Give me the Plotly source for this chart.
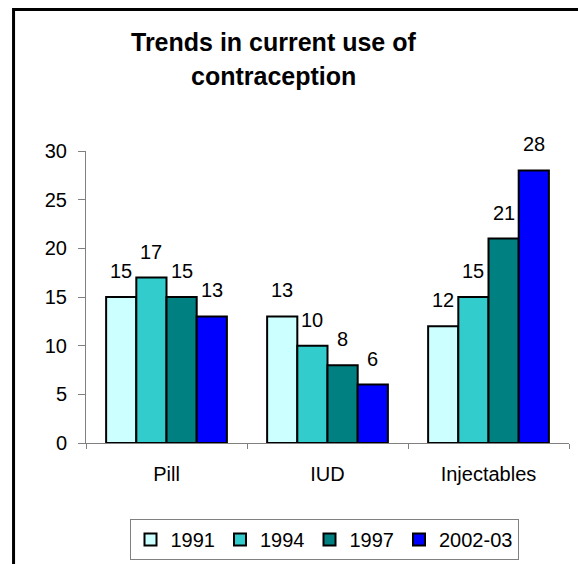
import plotly.graph_objects as go

# Contraceptive method categories and survey rounds
methods = ["Pill", "IUD", "Injectables"]
years = ["1991", "1994", "1997", "2002-03"]

# Percent of women currently using each method, per survey round
use_1991 = [15, 13, 12]
use_1994 = [17, 10, 15]
use_1997 = [15, 8, 21]
use_2002 = [13, 6, 28]

series = [use_1991, use_1994, use_1997, use_2002]
colors = ["#CCFFFF", "#33CCCC", "#008080", "#0000FF"]

title_lines = ["Trends in current use of", "contraception"]

FONT = "Liberation Sans, Arial, sans-serif"
W, H = 578, 564

fig = go.Figure()
for name, vals, col in zip(years, series, colors):
    fig.add_trace(go.Bar(
        x=methods, y=vals, name=name,
        marker=dict(color=col, line=dict(color="black", width=2)),
    ))

# Value labels above each bar, positioned from the bar values
group_width = 0.75
bar_w = group_width / len(series)
for i, vals in enumerate(series):
    offset = -group_width / 2 + bar_w * (i + 0.5)
    for j, v in enumerate(vals):
        fig.add_annotation(
            x=j + offset, y=v, xref="x", yref="y",
            text=str(v), showarrow=False,
            yanchor="middle", yshift=26,
            font=dict(family=FONT, size=20, color="black"),
        )

# Two-line bold title
for k, (line, ypx) in enumerate(zip(title_lines, [42, 76])):
    fig.add_annotation(
        xref="paper", yref="paper",
        x=(273 - 86) / 483, y=(443 - ypx) / 292,
        text=f"<b>{line}</b>", showarrow=False,
        xanchor="center", yanchor="middle",
        font=dict(family=FONT, size=25, color="black"),
    )

# Outer chart frame (top and left edges visible)
fig.add_shape(type="rect", xref="paper", yref="paper",
              x0=-0.150, x1=1.5, y0=-1.0, y1=1.4846,
              line=dict(color="black", width=3), layer="above")

fig.update_layout(
    width=W, height=H,
    margin=dict(l=86, r=9, t=151, b=121, autoexpand=False),
    paper_bgcolor="white", plot_bgcolor="white",
    barmode="group", bargap=0.25, bargroupgap=0,
    font=dict(family=FONT, size=20, color="black"),
    showlegend=True,
    legend=dict(
        orientation="h", xref="paper", x=(324 - 86) / 483, xanchor="center",
        yref="paper", y=-(519 - 443) / 292, yanchor="top",
        bordercolor="#808080", borderwidth=1,
        font=dict(family=FONT, size=20, color="black"),
        traceorder="normal", itemwidth=30,
    ),
    xaxis=dict(
        showline=True, linecolor="#808080", linewidth=1,
        ticks="outside", tickson="boundaries", ticklen=5, tickcolor="#808080",
        showgrid=False, ticklabelstandoff=13,
        tickfont=dict(family=FONT, size=20, color="black"),
    ),
    yaxis=dict(
        range=[0, 30], dtick=5, showline=True, linecolor="#808080", linewidth=1,
        ticks="outside", ticklen=7, tickcolor="#808080",
        showgrid=False, zeroline=False, ticklabelstandoff=7,
        tickfont=dict(family=FONT, size=20, color="black"),
    ),
)

fig.write_html("out.html")
